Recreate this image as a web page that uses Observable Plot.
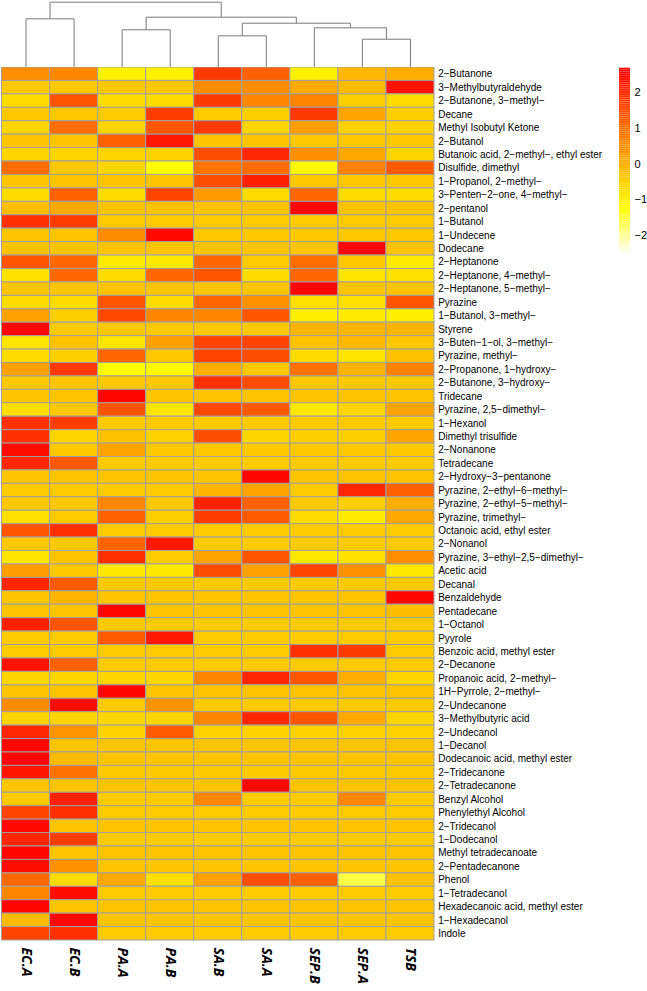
<!DOCTYPE html>
<html><head><meta charset="utf-8">
<script src="https://cdn.jsdelivr.net/npm/d3@7"></script>
<script src="https://cdn.jsdelivr.net/npm/@observablehq/plot@0.6"></script>
<style>
body{margin:0;background:#fff;}
#chart{position:relative;width:647px;height:991px;overflow:hidden;background:#fff;}
#chart > div{position:absolute;}
</style></head><body>
<div id="chart">
  <div id="dendro" style="left:0;top:0;width:436px;height:67px"></div>
  <div id="heat" style="left:0;top:67px;width:647px;height:924px"></div>
  <div id="legend" style="left:612px;top:60px;width:35px;height:205px"></div>
</div>
<script>
// ---- data ----
const columns = ["EC.A","EC.B","PA.A","PA.B","SA.B","SA.A","SEP.B","SEP.A","TSB"];
const rows = [
  "2−Butanone","3−Methylbutyraldehyde","2−Butanone, 3−methyl−","Decane","Methyl Isobutyl Ketone",
  "2−Butanol","Butanoic acid, 2−methyl−, ethyl ester","Disulfide, dimethyl","1−Propanol, 2−methyl−","3−Penten−2−one, 4−methyl−",
  "2−pentanol","1−Butanol","1−Undecene","Dodecane","2−Heptanone",
  "2−Heptanone, 4−methyl−","2−Heptanone, 5−methyl−","Pyrazine","1−Butanol, 3−methyl−","Styrene",
  "3−Buten−1−ol, 3−methyl−","Pyrazine, methyl−","2−Propanone, 1−hydroxy−","2−Butanone, 3−hydroxy−","Tridecane",
  "Pyrazine, 2,5−dimethyl−","1−Hexanol","Dimethyl trisulfide","2−Nonanone","Tetradecane",
  "2−Hydroxy−3−pentanone","Pyrazine, 2−ethyl−6−methyl−","Pyrazine, 2−ethyl−5−methyl−","Pyrazine, trimethyl−","Octanoic acid, ethyl ester",
  "2−Nonanol","Pyrazine, 3−ethyl−2,5−dimethyl−","Acetic acid","Decanal","Benzaldehyde",
  "Pentadecane","1−Octanol","Pyyrole","Benzoic acid, methyl ester","2−Decanone",
  "Propanoic acid, 2−methyl−","1H−Pyrrole, 2−methyl−","2−Undecanone","3−Methylbutyric acid","2−Undecanol",
  "1−Decanol","Dodecanoic acid, methyl ester","2−Tridecanone","2−Tetradecanone","Benzyl Alcohol",
  "Phenylethyl Alcohol","2−Tridecanol","1−Dodecanol","Methyl tetradecanoate","2−Pentadecanone",
  "Phenol","1−Tetradecanol","Hexadecanoic acid, methyl ester","1−Hexadecanol","Indole"
];
// row z-scores, one array per sample column (same order as rows)
const ecA = [0.5,-0.4,-0.7,-0.4,-0.6,-0.35,-0.6,1.0,-0.35,-0.7,
  -0.25,1.95,-0.35,-0.33,1.4,-0.8,-0.33,-0.7,0.2,2.6,
  -0.85,-0.7,0.2,-0.4,-0.33,-0.75,1.95,1.95,2.5,2.1,
  -0.33,-0.45,-0.4,-0.75,1.4,-0.4,-0.85,0.25,2.1,-0.35,
  -0.33,2.2,-0.45,-0.45,2.4,-0.6,-0.33,0.55,-0.6,2.1,
  2.6,2.6,2.35,-0.33,-0.45,1.65,2.55,2.1,2.6,2.5,
  1.1,0.6,2.6,-0.2,1.65];
const ecB = [0.6,-0.4,1.4,-0.4,1.0,-0.35,-0.6,-0.4,-0.35,1.2,
  0.1,1.75,-0.35,-0.33,1.1,1.1,-0.33,-0.7,-0.5,-0.4,
  -0.3,-0.5,1.8,-0.35,-0.33,-0.4,1.75,-0.6,-0.4,1.35,
  -0.33,-0.45,-0.4,-0.45,1.95,-0.4,-0.35,-0.4,1.3,-0.1,
  -0.33,1.4,-0.45,-0.45,1.2,-0.6,-0.33,2.5,-0.6,0.4,
  -0.33,-0.2,0.95,-0.33,2.2,1.95,-0.33,1.75,-0.33,0.45,
  -0.7,2.5,-0.33,2.6,1.95];
const paA = [-1.05,-0.4,-0.7,-0.45,-0.6,1.2,-0.6,-0.6,-0.35,-0.7,
  -0.3,-0.45,0.55,-0.33,-0.95,-0.7,-0.33,1.4,1.6,-0.4,
  -0.85,1.1,-1.25,-0.4,2.6,1.4,-0.45,-0.3,0.15,-0.45,
  -0.33,-0.45,0.6,1.2,-0.45,1.15,1.95,-0.9,-0.45,-0.35,
  2.6,-0.45,1.3,-0.45,-0.45,-0.6,2.6,-0.45,-0.6,-0.55,
  -0.33,-0.33,-0.41,-0.33,-0.45,-0.45,-0.33,-0.45,-0.33,-0.37,
  0.1,-0.45,-0.33,-0.33,-0.45];
const paB = [-1.05,-0.4,-0.7,1.75,1.4,2.3,-0.55,-1.2,-0.35,1.65,
  -0.3,-0.45,2.55,-0.33,-0.9,1.1,-0.33,-0.7,0.6,-0.4,
  0.2,-0.4,-1.2,-0.4,-0.33,-0.85,-0.45,-0.55,-0.4,-0.45,
  -0.33,-0.45,-0.4,-0.5,-0.45,2.3,-0.45,-0.9,-0.45,-0.35,
  -0.33,-0.45,2.3,-0.45,-0.45,-0.6,-0.33,0.4,-0.6,1.3,
  -0.33,-0.33,-0.41,-0.33,-0.45,-0.45,-0.33,-0.45,-0.33,-0.37,
  -0.75,-0.45,-0.33,-0.33,-0.45];
const saB = [1.8,0.55,1.8,-0.45,1.8,-0.35,1.5,0.9,1.5,0.3,
  -0.3,-0.45,-0.4,-0.33,1.1,1.4,-0.33,1.1,0.6,-0.4,
  1.65,1.65,0.0,1.95,-0.33,1.6,-0.45,1.5,-0.4,-0.45,
  -0.33,-0.1,2.15,1.75,-0.45,-0.45,0.15,1.5,-0.45,-0.35,
  -0.33,-0.45,-0.45,-0.45,-0.45,0.6,-0.33,-0.45,0.6,-0.55,
  -0.33,-0.33,-0.41,-0.33,0.6,-0.45,-0.33,-0.45,-0.33,-0.37,
  0.2,-0.45,-0.33,-0.33,-0.45];
const saA = [1.2,0.55,0.6,-0.5,-0.6,-0.35,2.1,1.0,2.2,-0.7,
  -0.3,-0.45,-0.4,-0.33,-0.45,-0.7,-0.33,0.45,1.35,-0.4,
  1.65,1.5,-0.4,1.5,-0.33,1.3,-0.45,-0.6,-0.4,-0.45,
  2.6,0.15,1.2,1.3,-0.45,-0.45,1.4,0.2,-0.45,-0.35,
  -0.33,-0.45,-0.45,-0.45,-0.45,2.1,-0.33,-0.45,2.1,-0.55,
  -0.33,-0.33,-0.41,2.6,-0.45,-0.45,-0.33,-0.45,-0.33,-0.37,
  1.5,-0.45,-0.33,-0.33,-0.45];
const sepB = [-1.05,0.05,0.65,1.8,0.25,-0.4,0.5,-1.15,-0.4,1.1,
  2.6,-0.45,-0.4,-0.33,1.0,1.1,2.6,-0.75,-1.0,-0.1,
  -0.3,-0.7,0.95,-0.4,-0.33,-0.9,-0.45,-0.5,-0.4,-0.45,
  -0.33,-0.45,-0.45,-0.7,-0.45,-0.45,-0.9,1.65,-0.45,-0.35,
  -0.33,-0.45,-0.45,1.95,-0.45,1.4,-0.33,-0.45,1.4,-0.55,
  -0.33,-0.33,-0.41,-0.33,-0.45,-0.45,-0.33,-0.45,-0.33,-0.37,
  1.2,-0.45,-0.33,-0.33,-0.45];
const sepA = [-0.15,-0.2,-0.5,0.15,-0.55,-0.4,0.1,0.7,-0.4,-0.7,
  -0.3,-0.45,-0.4,2.6,-0.4,-0.85,-0.33,-0.75,-0.95,-0.1,
  -0.15,-0.85,-0.1,-0.45,-0.33,-0.6,-0.45,-0.5,-0.4,-0.45,
  -0.33,2.1,-0.5,-0.95,-0.45,-0.45,-0.8,0.45,-0.45,-0.35,
  -0.33,-0.45,-0.45,1.8,-0.45,0.0,-0.33,-0.45,0.1,-0.55,
  -0.33,-0.33,-0.41,-0.33,0.6,-0.45,-0.33,-0.45,-0.33,-0.37,
  -1.6,-0.45,-0.33,-0.33,-0.45];
const tsb = [0.0,2.4,-0.7,-0.5,-0.55,-0.4,-0.6,1.3,-0.4,-0.7,
  -0.3,-0.45,-0.4,-0.33,-0.95,-0.8,-0.33,1.4,-1.0,-0.1,
  -0.4,-0.3,0.7,-0.45,-0.33,0.15,-0.45,0.15,-0.4,-0.45,
  -0.33,1.2,0.0,0.1,-0.45,-0.45,0.5,-0.9,-0.45,2.6,
  -0.25,-0.45,-0.45,-0.45,-0.45,-0.6,-0.33,-0.45,-0.6,-0.55,
  -0.33,-0.33,-0.41,-0.33,-0.45,-0.45,-0.33,-0.45,-0.33,-0.37,
  -0.3,-0.45,-0.33,-0.33,-0.45];
const columnValues = [ecA, ecB, paA, paB, saB, saA, sepB, sepA, tsb];
// column dendrogram merges: [left, right, height]; merged nodes are n1, n2, ...
const dendroMerges = [
  ["EC.A","EC.B",48.4],
  ["PA.A","PA.B",37.4],
  ["SA.B","SA.A",31.4],
  ["SEP.A","TSB",28],
  ["SEP.B","n4",39.4],
  ["n3","n5",44],
  ["n2","n6",50],
  ["n1","n7",65]
];
const colorDomain = [-2.56, 2.69];
const legendTicks = [-2,-1,0,1,2];

// ---- colour: reversed R heat.colors ----
function heatColor(t){
  t = Math.max(0, Math.min(1, t));
  if (t < 0.25) { const s = t/0.25; return `rgb(255,255,${Math.round(255*(1-s))})`; }
  const h = 1 - (t-0.25)/0.75;
  return `rgb(255,${Math.round(255*h)},0)`;
}
const colorScale = {type:"linear", domain: colorDomain, interpolate: heatColor};
const baseStyle = {fontFamily:"'Liberation Sans', Arial, sans-serif", fontSize:"10px"};

// ---- dendrogram ----
const nodes = new Map(columns.map((c,i)=>[c,{x:i,h:0}]));
const segs = [];
dendroMerges.forEach(([a,b,h],k)=>{
  const A = nodes.get(a), B = nodes.get(b);
  segs.push({x1:A.x,y1:A.h,x2:A.x,y2:h},{x1:B.x,y1:B.h,x2:B.x,y2:h},{x1:A.x,y1:h,x2:B.x,y2:h});
  nodes.set("n"+(k+1), {x:(A.x+B.x)/2, h});
});
document.getElementById("dendro").append(Plot.plot({
  width:436, height:67, marginLeft:1.5, marginRight:2, marginTop:1.7, marginBottom:0.3,
  style: baseStyle,
  x:{domain:[-0.5,8.5], axis:null}, y:{domain:[0,65], axis:null},
  marks:[Plot.link(segs,{x1:"x1",y1:"y1",x2:"x2",y2:"y2",stroke:"#7a7a7a",strokeWidth:1})]
}));

// ---- heatmap ----
const cells = rows.flatMap((r,i)=>columns.map((c,j)=>({row:r, col:c, z:columnValues[j][i]})));
document.getElementById("heat").append(Plot.plot({
  width:647, height:924, marginLeft:1.5, marginRight:213, marginTop:0, marginBottom:51,
  style: baseStyle,
  x:{domain:columns, padding:0, round:false, label:null},
  y:{domain:rows, padding:0, round:false, label:null},
  color: colorScale,
  marks:[
    Plot.cell(cells,{x:"col", y:"row", fill:"z", stroke:"#a0a0a0", strokeWidth:1}),
    Plot.axisY({anchor:"right", tickSize:0, tickPadding:3.7, fontSize:10, label:null}),
    Plot.axisX({anchor:"bottom", tickSize:0, tickPadding:7, tickRotate:90, fontSize:14, fontWeight:"bold", fontStyle:"italic", fontFamily:"'Open Sans', sans-serif", label:null})
  ]
}));

// ---- colour legend ----
const legendSteps = d3.range(100).map(i=>{
  const lo = colorDomain[0] + (colorDomain[1]-colorDomain[0])*i/100;
  const hi = colorDomain[0] + (colorDomain[1]-colorDomain[0])*(i+1)/100;
  return {lo, hi, mid:(lo+hi)/2};
});
document.getElementById("legend").append(Plot.plot({
  width:35, height:205, marginLeft:7, marginRight:17, marginTop:7.7, marginBottom:10,
  style: {...baseStyle, fontSize:"11px"},
  y:{domain:colorDomain, label:null},
  color: colorScale,
  marks:[
    Plot.rect(legendSteps,{y1:"lo", y2:"hi", fill:"mid"}),
    Plot.axisY({anchor:"right", ticks:legendTicks, tickFormat:"d", tickSize:0, tickPadding:4, fontSize:11, label:null})
  ]
}));
</script>
</body></html>
